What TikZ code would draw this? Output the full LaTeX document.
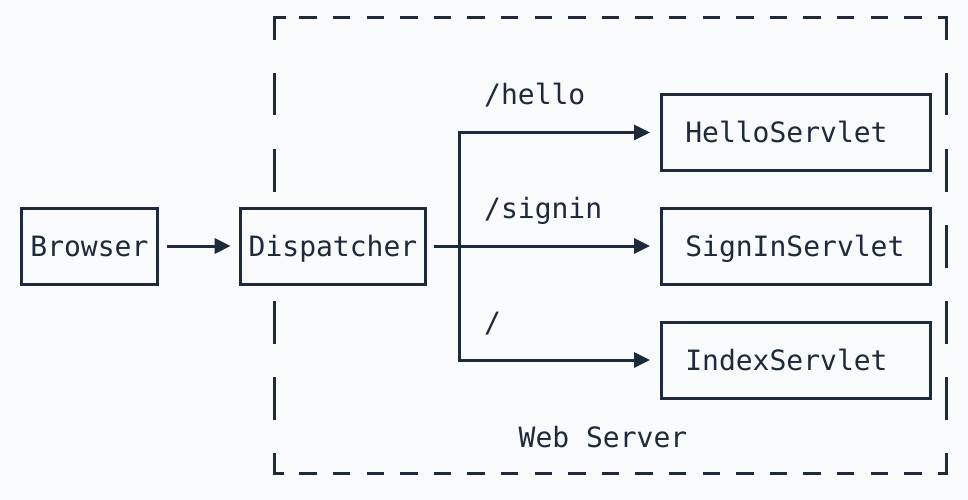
\documentclass[tikz,border=0pt]{standalone}
\usepackage{fontspec}
\newfontfamily\diagmono{DejaVu Sans Mono}
\usetikzlibrary{arrows.meta}
\definecolor{bg}{HTML}{F8FAFC}
\definecolor{ink}{HTML}{1E293B}
\begin{document}
\begin{tikzpicture}[x=1pt,y=-1pt,
  every node/.style={font=\diagmono\fontsize{28}{28}\selectfont, text=ink},
  box/.style={draw=ink, line width=3pt, fill=bg, minimum height=76pt, text height=20.4pt, text depth=0pt, inner xsep=4pt, inner ysep=0pt},
  srv/.style={box, text width=269pt, inner xsep=0pt, align=left, minimum width=269pt},
  lbl/.style={inner sep=0pt, anchor=base west},
  arr/.style={draw=ink, line width=3pt, -{Triangle[length=16pt,width=15pt]}},
  frame/.style={draw=ink, line width=3pt}]
\path[fill=bg] (0,0) rectangle (968,500);
% dashed frame
\draw[frame] (274,40) -- (274,18) -- (286,18);
\draw[frame] (938,18) -- (946,18) -- (946,40);
\draw[frame] (274,453) -- (274,473) -- (284,473);
\draw[frame] (938,473) -- (946,473) -- (946,453);
\foreach \i in {0,...,18} {
  \draw[frame] ({299.3+33.6*\i},18) -- ++(17.4,0);
  \draw[frame] ({299.3+33.6*\i},473) -- ++(17.4,0);
}
\foreach \k in {0,1,3,4} {
  \draw[frame] (274,{73+76*\k}) -- ++(0,42.5);
}
\foreach \k in {0,...,4} {
  \draw[frame] (946,{73+76*\k}) -- ++(0,42.5);
}
% nodes
\node[box, minimum width=135.3pt] (browser) at (89.4,246) {Browser};
\node[box, minimum width=185.7pt] (disp) at (333,246) {Dispatcher};
\node[srv] (hello) at (795.5,132.5) {\hspace*{24.3pt}HelloServlet};
\node[srv] (signin) at (795.5,246) {\hspace*{24.3pt}SignInServlet};
\node[srv] (index) at (795.5,360) {\hspace*{24.3pt}IndexServlet};
% labels
\node[lbl] (lhello) at (484,105) {/hello};
\node[lbl] (lsignin) at (484,218) {/signin};
\node[lbl] (lroot) at (484,332) {/};
\node[lbl] (lweb) at (518.5,447) {Web Server};
% connectors
\coordinate (split) at (459,246);
\draw[arr, shorten <=8pt, shorten >=8pt] (browser) -- (disp);
\draw[arr, shorten <=7pt, shorten >=9.5pt] (disp) -- (signin);
\draw[arr, shorten >=9.5pt] (split) |- (hello.west);
\draw[arr, shorten >=9.5pt] (split) |- (index.west);
\end{tikzpicture}
\end{document}
